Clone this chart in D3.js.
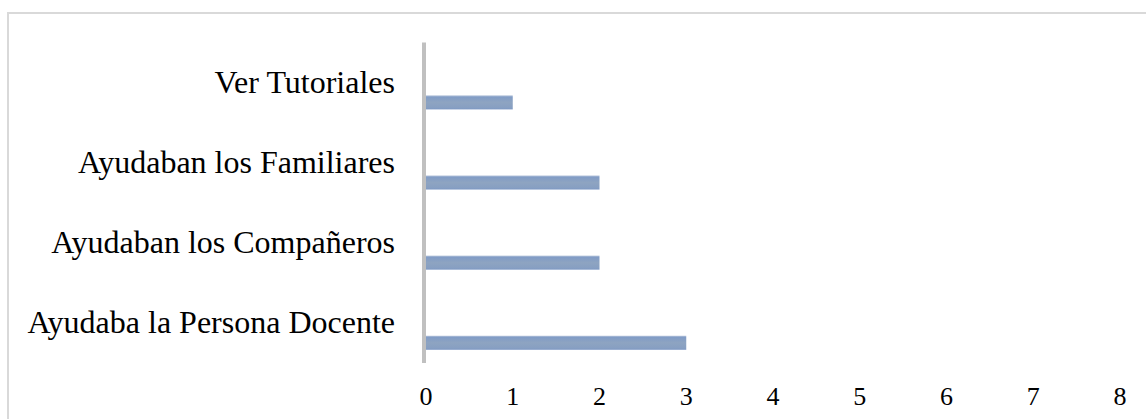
<!DOCTYPE html>
<html>
<head>
<meta charset="utf-8">
<script src="https://cdn.jsdelivr.net/npm/d3@7"></script>
<style>
  body { margin:0; background:#fff; }
  text { font-family: "Liberation Serif", "Times New Roman", serif; fill:#000; }
</style>
</head>
<body>
<div id="plot"></div>
<script>
// data
var categories = ["Ver Tutoriales", "Ayudaban los Familiares", "Ayudaban los Compañeros", "Ayudaba la Persona Docente"];
var values = [1, 2, 2, 3];
var xTicks = [0, 1, 2, 3, 4, 5, 6, 7, 8];

var W = 1146, H = 419;
var margin = {t:42.5, l:426, r:26, b:56};

var svg = d3.select('#plot').append('svg')
  .attr('width', W).attr('height', H);

// gradient for bars
var defs = svg.append('defs');
var g1 = defs.append('linearGradient').attr('id','barGrad')
  .attr('x1',0).attr('y1',0).attr('x2',0).attr('y2',1);
g1.append('stop').attr('offset','0%').attr('stop-color','#b4c3da');
g1.append('stop').attr('offset','12%').attr('stop-color','#819cc6');
g1.append('stop').attr('offset','50%').attr('stop-color','#8ea4c1');
g1.append('stop').attr('offset','88%').attr('stop-color','#879fc2');
g1.append('stop').attr('offset','100%').attr('stop-color','#7c97c3');

// outer frame
svg.append('rect')
  .attr('x', 8).attr('y', 13)
  .attr('width', W).attr('height', H)
  .attr('fill','none').attr('stroke','#d9d9d9').attr('stroke-width',2);

var x = d3.scaleLinear().domain([0, 8]).range([margin.l, W - margin.r]);
var y = d3.scaleBand().domain(categories).range([margin.t, H - margin.b]);

var dataset = categories.map(function(c, i){ return {cat:c, val:values[i]}; });

// bars sit in the lower part of each category band
svg.selectAll('rect.bar')
  .data(dataset)
  .enter().append('rect')
  .attr('class','bar')
  .attr('x', x(0))
  .attr('y', function(d){ return y(d.cat) + y.bandwidth()*0.66; })
  .attr('width', function(d){ return x(d.val) - x(0); })
  .attr('height', y.bandwidth()*0.175)
  .style('fill','url(#barGrad)');

// category axis line
svg.append('line')
  .attr('x1', x(0) - 2).attr('x2', x(0) - 2)
  .attr('y1', margin.t).attr('y2', H - margin.b)
  .attr('stroke','#c0c0c0').attr('stroke-width',4);

// category labels
svg.selectAll('text.cat')
  .data(categories)
  .enter().append('text')
  .attr('class','cat')
  .attr('x', 395)
  .attr('y', function(d){ return y(d) + y.bandwidth()/2 + 10; })
  .attr('text-anchor','end')
  .style('font-size','32px')
  .text(function(d){ return d; });

// value ticks
svg.selectAll('text.tick')
  .data(xTicks)
  .enter().append('text')
  .attr('class','tick')
  .attr('x', function(d){ return x(d); })
  .attr('y', 405)
  .attr('text-anchor','middle')
  .style('font-size','26px')
  .text(function(d){ return d; });
</script>
</body>
</html>
